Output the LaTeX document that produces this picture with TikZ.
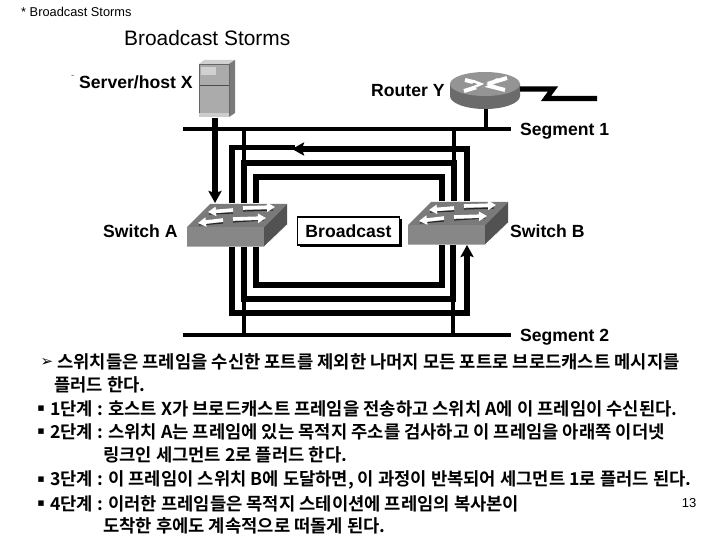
\documentclass[tikz,border=0pt]{standalone}
\usepackage{fontspec}
\setmainfont{Liberation Sans}
\newfontfamily\krfont{Noto Sans CJK KR}[BoldFont={* Bold}]
\newfontfamily\symfont{DejaVu Sans}
\usetikzlibrary{positioning,arrows.meta,shadows}

% arrows on the top face of a switch
\newcommand{\swfaces}[1]{%
  \begin{scope}[shift={(#1.north west)}]
    \fill[swfront] (0,24) rectangle (77,44);
    \fill[swtop]   (0,24) -- (23,1) -- (100,1) -- (77,24) -- cycle;
    \fill[swside]  (77,24) -- (100,1) -- (100,22) -- (77,44) -- cycle;
    \draw[white, line width=0.7pt] (0,44) -- (77,44) -- (100,22);
    \draw[swshade] (46,10) -- (22,11);
    \draw[swshade] (36,20) -- (12,22);
    \draw[swshade] (56,8) -- (86,7);
    \draw[swshade] (46,19) -- (77,17);
    \draw[swarrow] (46,7) -- (21,9);
    \draw[swarrow] (36,17) -- (11,20);
    \draw[swarrow] (56,5) -- (88,4);
    \draw[swarrow] (46,16) -- (79,15);
  \end{scope}
}

\begin{document}
\begin{tikzpicture}[
  x=1pt, y=-1pt, font=\fontsize{17.6}{20}\selectfont\bfseries,
  lbl/.style    = {anchor=west, inner sep=0pt},
  txt/.style    = {anchor=west, inner sep=0pt,
                   font=\krfont\fontsize{17.7}{20}\selectfont\bfseries},
  sym/.style    = {anchor=center, inner sep=0pt,
                   font=\symfont\fontsize{11}{12}\selectfont},
  plain/.style  = {anchor=west, inner sep=0pt, font=\fontsize{12.8}{14}\selectfont},
  swbox/.style  = {minimum width=100pt, minimum height=44pt, inner sep=0pt, outer sep=0pt},
  swfront/.style= {fill=black!47},
  swtop/.style  = {fill=black!52},
  swside/.style = {fill=black!68},
  swarrow/.style= {draw=white, line width=3.6pt, -{Triangle[length=8pt,width=9pt]}},
  swshade/.style= {draw=black!85, line width=1.2pt},
  trunk/.style  = {draw=black, line width=5.2pt},
  bus/.style    = {draw=black, line width=4pt},
  tip/.style    = {-{Stealth[length=12pt,width=13pt,inset=2pt]}},
]
  \useasboundingbox (0,0) rectangle (720,540);

  % ---- titles -----------------------------------------------
  \node[plain] (hdr) at (21,12) {* Broadcast Storms};
  \node[anchor=west, inner sep=0pt, font=\fontsize{20.9}{24}\selectfont] (ttl) at (124,38) {Broadcast Storms};
  \node[plain, font=\fontsize{10}{12}\selectfont, text=black!60] (dsh) at (71,77) {-};

  % ---- devices ----------------------------------------------
  \node[minimum width=36pt, minimum height=58pt, inner sep=0pt, outer sep=0pt] (srv) at (217,89) {};
  \node[minimum width=70pt, minimum height=37pt, inner sep=0pt, outer sep=0pt] (rtr) at (485,90.5) {};
  \node[swbox] (sa) at (237,225) {};
  \node[swbox] (sb) at (458,223) {};
  \swfaces{sa}
  \swfaces{sb}

  \begin{scope}[shift={(srv.north west)}]
    \fill[black!33] (0,4) rectangle (30,57);
    \fill[black!18] (0,4) -- (5,0) -- (36,0) -- (30,4) -- cycle;
    \fill[black!52] (30,4) -- (36,0) -- (36,53) -- (30,57) -- cycle;
    \fill[black!18] (2,7) rectangle (17,15);
    \draw[black!70, line width=0.9pt] (0,25) -- (30,25);
    \draw[black!60, line width=0.8pt] (0,4) rectangle (30,53);
    \fill[black!20] (0,53) rectangle (30,57);
  \end{scope}

  \begin{scope}[shift={(rtr.north west)}]
    \fill[black!58] (0,12) -- (0,24) arc[start angle=180, end angle=0, x radius=35, y radius=13]
      -- (70,12) -- cycle;
    \fill[black!42] (35,12) ellipse[x radius=35, y radius=12];
    \draw[white, line width=4pt] (15,8) -- (55,18);
    \draw[white, line width=4pt] (57,6) -- (14,19);
    \fill[black!42] (28,6) -- (40,12) -- (28,18) -- (22,12) -- cycle;
    \draw[white, line width=2.5pt] (23,9) -- (31,12) -- (22,16);
    \draw[white, line width=2.5pt] (48,7) -- (39,12) -- (48,16);
  \end{scope}

  % ---- device labels ----------------------------------------
  \node[lbl] (lsrv) at (79,82) {Server/host X};
  \node[lbl] (lrtr) at (371,91) {Router Y};
  \node[lbl] (lsg1) at (520,131) {Segment 1};
  \node[lbl] (lsa)  at (103,231) {Switch A};
  \node[lbl] (lsb)  at (510,231) {Switch B};
  \node[lbl] (lsg2) at (520,337) {Segment 2};

  \node[draw=black, line width=1.4pt, fill=white, inner sep=0pt, minimum width=102pt,
        minimum height=28pt, drop shadow={shadow xshift=2pt, shadow yshift=-2pt, fill=black, opacity=1}]
        (bc) at (348.5,231) {Broadcast};

  % ---- bus and loop corners ---------------------------------
  \coordinate (s1w) at (183,129);
  \coordinate (s1e) at (511,129);
  \coordinate (s2w) at (183,335);
  \coordinate (s2e) at (511,335);
  \coordinate (hx)  at (215,129);
  \coordinate (rx)  at (486,129);

  \coordinate (ta)  at (232,147.5);
  \coordinate (tah) at (295,147.5);
  \coordinate (tb)  at (467,149);
  \coordinate (tc)  at (244,163);
  \coordinate (td)  at (454,163);
  \coordinate (te)  at (256,177);
  \coordinate (tf)  at (442,177);
  \coordinate (tt)  at (292,149);

  \coordinate (be)  at (256,285);
  \coordinate (bf)  at (442,285);
  \coordinate (bc1) at (244,299);
  \coordinate (bd)  at (453,299);
  \coordinate (ba)  at (232,313);
  \coordinate (bb)  at (467,313);

  \coordinate (w1)  at (520,89);
  \coordinate (w2)  at (553,89);
  \coordinate (w3)  at (546,98.5);
  \coordinate (w4)  at (597,98.5);

  % ---- buses ------------------------------------------------
  \draw[bus] (s1w) -- (s1e);
  \draw[bus] (s2w) -- (s2e);
  \draw[bus] (rtr.south -| rx) -- (rx);
  \draw[trunk] (w1) -- (w2) -- (w3) -- (w4);

  % ---- host frame -------------------------------------------
  \draw[trunk, tip] (srv.south -| hx) -- (sa.north -| hx);

  % ---- upper loops ------------------------------------------
  \draw[trunk] (sa.north -| ta) -- (ta) -- (tah);
  \draw[trunk, tip] (sb.north -| tb) -- (tb) -- (tt);
  \draw[trunk] (sa.north -| tc) -- (tc) -- (td) -- (sb.north -| td);
  \draw[trunk] (sa.north -| te) -- (te) -- (tf) -- (sb.north -| tf);
  \draw[bus] (s1w -| tc) -- (tc);
  \draw[bus] (s1w -| td) -- (td);

  % ---- lower loops ------------------------------------------
  \draw[trunk] (sa.south -| be) -- (be) -- (bf) -- (sb.south -| bf);
  \draw[trunk] (sa.south -| bc1) -- (bc1) -- (bd) -- (sb.south -| bd);
  \draw[trunk, tip] (ba |- sa.south) -- (ba) -- (bb) -- (sb.south -| bb);
  \draw[bus] (bc1) -- (s2w -| bc1);
  \draw[bus] (bd) -- (s2w -| bd);

  % ---- notes ------------------------------------------------
  \node[sym, font=\symfont\fontsize{15}{16}\selectfont] (b0) at (47,362) {➢};
  \node[txt] (n1a) at (57,362) {스위치들은 프레임을 수신한 포트를 제외한 나머지 모든 포트로 브로드캐스트 메시지를};
  \node[txt] (n1b) at (54,385) {플러드 한다.};
  \node[sym] (b1) at (41,409) {▪};
  \node[txt] (n2)  at (50,409) {1단계 : 호스트 X가 브로드캐스트 프레임을 전송하고 스위치 A에 이 프레임이 수신된다.};
  \node[sym] (b2) at (41,432) {▪};
  \node[txt] (n3a) at (50,432) {2단계 : 스위치 A는 프레임에 있는 목적지 주소를 검사하고 이 프레임을 아래쪽 이더넷};
  \node[txt] (n3b) at (103,455) {링크인 세그먼트 2로 플러드 한다.};
  \node[sym] (b3) at (41,480) {▪};
  \node[txt] (n4)  at (50,480) {3단계 : 이 프레임이 스위치 B에 도달하면, 이 과정이 반복되어 세그먼트 1로 플러드 된다.};
  \node[sym] (b4) at (41,504) {▪};
  \node[txt] (n5a) at (50,504) {4단계 : 이러한 프레임들은 목적지 스테이션에 프레임의 복사본이};
  \node[txt] (n5b) at (103,526) {도착한 후에도 계속적으로 떠돌게 된다.};
  \node[anchor=center, inner sep=0pt, font=\fontsize{13}{14}\selectfont] (pg) at (689,503) {13};

\end{tikzpicture}
\end{document}
